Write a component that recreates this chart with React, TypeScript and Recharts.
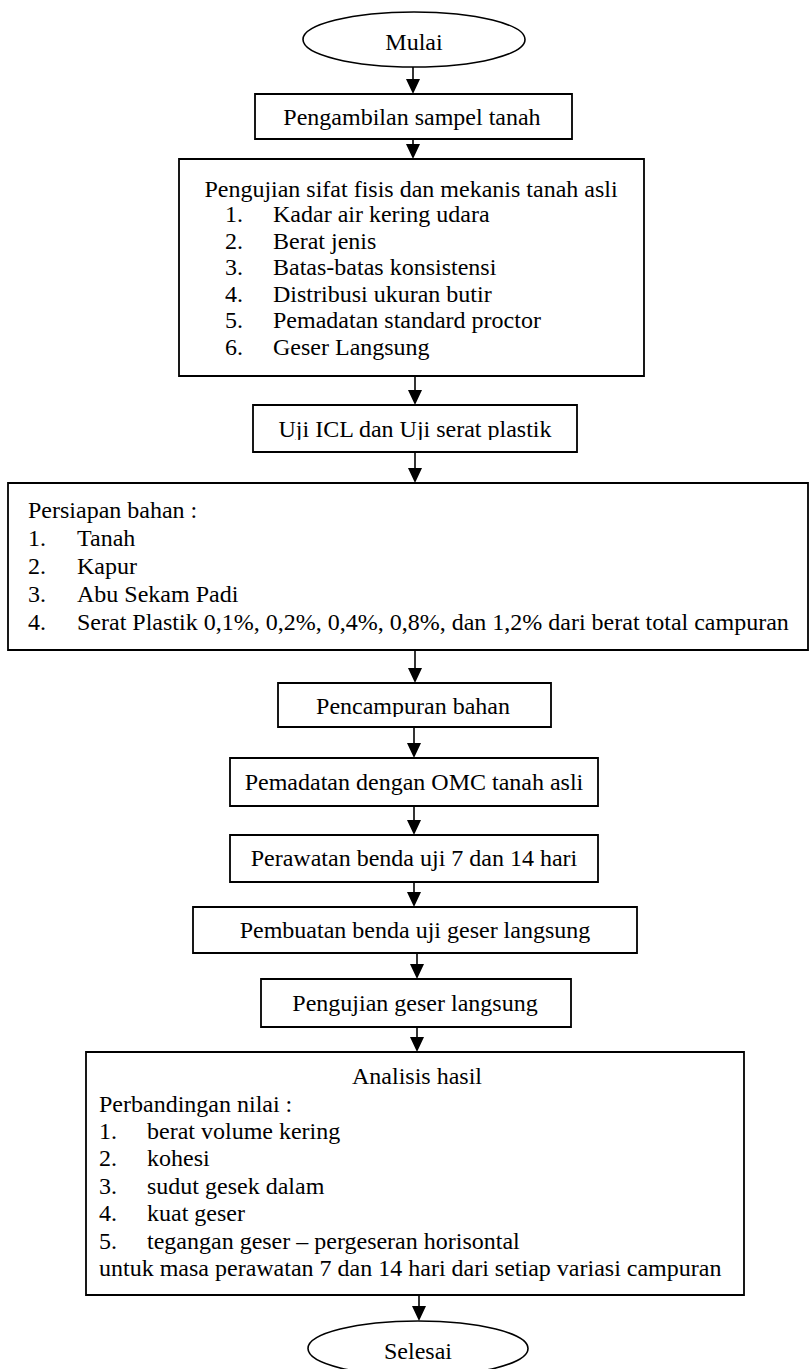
import React from "react";
import { ScatterChart, Scatter, XAxis, YAxis, ReferenceArea, ReferenceLine } from "recharts";

// flowchart laid out on a 810 x 1369 grid
const terminalLabels = ["Mulai", "Selesai"];
const terminalCenterX = [414, 418];
const terminalHalfWidth = [111, 110];
const terminalTop = [12, 1321];
const terminalBottom = [67, 1376];

const boxLeft = [255, 179, 253, 8, 278, 230, 230, 193, 261, 86];
const boxRight = [572, 644, 577, 808, 551, 598, 598, 637, 571, 744];
const boxTop = [94, 159, 405, 483, 683, 758, 835, 907, 979, 1052];
const boxBottom = [139, 376, 452, 650, 727, 806, 882, 953, 1027, 1295];

const arrowX = [413, 413, 415, 415, 415, 414, 414, 414, 417, 417, 419];

const singleLabels = [
  "Pengambilan sampel tanah",
  "Uji ICL dan Uji serat plastik",
  "Pencampuran bahan",
  "Pemadatan dengan OMC tanah asli",
  "Perawatan benda uji 7 dan 14 hari",
  "Pembuatan benda uji geser langsung",
  "Pengujian geser langsung",
];
const singleX = [412, 415, 413, 414, 414, 415, 415];
const singleY = [117, 429, 706, 782, 858, 930, 1003];
// these two labels have their descenders cut off in the original
const clippedLabels = [1, 2];

const ujiTitle = "Pengujian sifat fisis dan mekanis tanah asli";
const ujiItems = [
  "Kadar air kering udara",
  "Berat jenis",
  "Batas-batas konsistensi",
  "Distribusi ukuran butir",
  "Pemadatan standard proctor",
  "Geser Langsung",
];
const ujiY = [189, 214, 241, 267, 294, 320, 347];

const bahanTitle = "Persiapan bahan :";
const bahanItems = [
  "Tanah",
  "Kapur",
  "Abu Sekam Padi",
  "Serat Plastik 0,1%, 0,2%, 0,4%, 0,8%, dan 1,2% dari berat total campuran",
];
const bahanY = [510, 538, 566, 594, 622];

const analisisTitle = "Analisis hasil";
const analisisIntro = "Perbandingan nilai :";
const analisisItems = [
  "berat volume kering",
  "kohesi",
  "sudut gesek dalam",
  "kuat geser",
  "tegangan geser – pergeseran horisontal",
];
const analisisOutro = "untuk masa perawatan 7 dan 14 hari dari setiap variasi campuran";
const analisisY = [1076, 1104, 1131, 1158, 1186, 1213, 1241, 1268];

type Row = { x: number; y: number; text: string; anchor: "start" | "middle"; clip?: boolean };

const rows: Row[] = [];
terminalLabels.forEach((t, i) =>
  rows.push({ x: terminalCenterX[i], y: (terminalTop[i] + terminalBottom[i]) / 2 + 2, text: t, anchor: "middle" })
);
singleLabels.forEach((t, i) =>
  rows.push({ x: singleX[i], y: singleY[i], text: t, anchor: "middle", clip: clippedLabels.includes(i) })
);

rows.push({ x: 411, y: ujiY[0], text: ujiTitle, anchor: "middle" });
ujiItems.forEach((t, i) => {
  rows.push({ x: 225, y: ujiY[i + 1], text: `${i + 1}.`, anchor: "start" });
  rows.push({ x: 273, y: ujiY[i + 1], text: t, anchor: "start" });
});

rows.push({ x: 28, y: bahanY[0], text: bahanTitle, anchor: "start" });
bahanItems.forEach((t, i) => {
  rows.push({ x: 28, y: bahanY[i + 1], text: `${i + 1}.`, anchor: "start" });
  rows.push({ x: 77, y: bahanY[i + 1], text: t, anchor: "start" });
});

rows.push({ x: 417, y: analisisY[0], text: analisisTitle, anchor: "middle" });
rows.push({ x: 99, y: analisisY[1], text: analisisIntro, anchor: "start" });
analisisItems.forEach((t, i) => {
  rows.push({ x: 99, y: analisisY[i + 2], text: `${i + 1}.`, anchor: "start" });
  rows.push({ x: 147, y: analisisY[i + 2], text: t, anchor: "start" });
});
rows.push({ x: 99, y: analisisY[7], text: analisisOutro, anchor: "start" });

// arrows run from each node's bottom to the next node's top
const nodeBottoms = [terminalBottom[0], ...boxBottom];
const nodeTops = [...boxTop, terminalTop[1]];

const FONT = "'Liberation Serif', 'Times New Roman', serif";

const TextShape = (props: any) => {
  const { cx, cy, payload, index } = props;
  const label = (
    <text x={cx} y={cy} dy="0.35em" textAnchor={payload.anchor} fontFamily={FONT} fontSize={24} fill="#000">
      {payload.text}
    </text>
  );
  if (!payload.clip) return label;
  const id = `cut-${index}`;
  return (
    <g>
      <defs>
        <clipPath id={id}>
          <rect x={cx - 300} y={cy - 30} width={600} height={41} />
        </clipPath>
      </defs>
      <g clipPath={`url(#${id})`}>{label}</g>
    </g>
  );
};

const EllipseShape = (props: any) => {
  const { x, y, width, height } = props;
  return (
    <ellipse cx={x + width / 2} cy={y + height / 2} rx={width / 2} ry={height / 2} fill="none" stroke="#000" strokeWidth={1.6} />
  );
};

const ArrowShape = (props: any) => {
  const { x1, y1, x2, y2 } = props;
  return (
    <g>
      <line x1={x1} y1={y1} x2={x2} y2={y2 - 12} stroke="#000" strokeWidth={1.6} />
      <polygon points={`${x2 - 7},${y2 - 15} ${x2 + 7},${y2 - 15} ${x2},${y2}`} fill="#000" />
    </g>
  );
};

const App: React.FC = () => {
  return (
    <div style={{ position: "absolute", left: 0, top: 0, background: "#fff" }}>
      <ScatterChart width={810} height={1369} margin={{ top: 0, right: 0, bottom: 0, left: 0 }}>
        <XAxis type="number" dataKey="x" domain={[0, 810]} hide />
        <YAxis type="number" dataKey="y" domain={[0, 1369]} reversed hide />
        {boxLeft.map((l, i) => (
          <ReferenceArea
            key={`box-${i}`}
            x1={l}
            x2={boxRight[i]}
            y1={boxTop[i]}
            y2={boxBottom[i]}
            fill="none"
            stroke="#000"
            strokeWidth={1.8}
            ifOverflow="visible"
          />
        ))}
        {terminalLabels.map((t, i) => (
          <ReferenceArea
            key={`term-${t}`}
            x1={terminalCenterX[i] - terminalHalfWidth[i]}
            x2={terminalCenterX[i] + terminalHalfWidth[i]}
            y1={terminalTop[i]}
            y2={terminalBottom[i]}
            shape={EllipseShape}
            ifOverflow="visible"
          />
        ))}
        {arrowX.map((x, i) => (
          <ReferenceLine
            key={`arrow-${i}`}
            segment={[
              { x, y: nodeBottoms[i] },
              { x, y: nodeTops[i] },
            ]}
            shape={ArrowShape}
            ifOverflow="visible"
          />
        ))}
        <Scatter data={rows} shape={TextShape} isAnimationActive={false} />
      </ScatterChart>
    </div>
  );
};

export default App;
